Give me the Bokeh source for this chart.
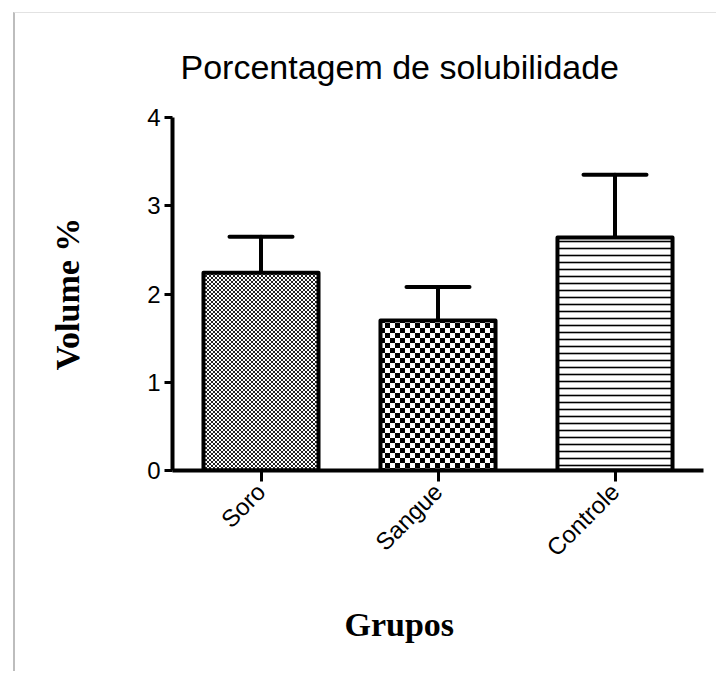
import base64
import math
from bokeh.plotting import figure
from bokeh.models import (ColumnDataSource, Whisker, TeeHead, Title, ImageURLTexture,
                          FactorRange, Range1d, FixedTicker)
from bokeh.core.properties import value
from bokeh.embed import file_html
from bokeh.resources import INLINE

# ---- data ----
groups = ["Soro", "Sangue", "Controle"]
means = [2.24, 1.70, 2.64]
errors = [0.41, 0.38, 0.71]
y_ticks = [0, 1, 2, 3, 4]
title_text = "Porcentagem de solubilidade"
x_label = "Grupos"
y_label = "Volume %"


def svg_texture(svg):
    url = "data:image/svg+xml;base64," + base64.b64encode(svg.encode()).decode()
    return ImageURLTexture(url=url, repetition="repeat")


soro_tex = svg_texture(
    '<svg xmlns="http://www.w3.org/2000/svg" width="4" height="4">'
    '<rect width="4" height="4" fill="white"/>'
    '<rect width="2" height="2" fill="#222"/>'
    '<rect x="2" y="2" width="2" height="2" fill="#222"/></svg>')
sangue_tex = svg_texture(
    '<svg xmlns="http://www.w3.org/2000/svg" width="10" height="10">'
    '<rect width="10" height="10" fill="white"/>'
    '<rect width="5" height="5" fill="black"/>'
    '<rect x="5" y="5" width="5" height="5" fill="black"/></svg>')

p = figure(width=703, height=659, x_range=FactorRange(*groups, range_padding=0),
           y_range=Range1d(0, 4), output_backend="svg", toolbar_location=None,
           min_border_left=157, min_border_right=15, min_border_top=104,
           min_border_bottom=202, title=title_text)
p.styles = {"margin-left": "13px", "margin-top": "12px",
            "border-left": "2px solid #bdbdbd", "border-top": "1px solid #e2e2e2"}

p.title.text_font = "Liberation Sans"
p.title.text_font_style = "normal"
p.title.text_font_size = "34px"
p.title.text_color = "black"
p.title.align = "left"
p.title.offset = 8
p.title.standoff = 63

p.outline_line_color = None
p.xgrid.grid_line_color = None
p.ygrid.grid_line_color = None
p.background_fill_color = "white"
p.border_fill_color = "white"

# error bars (upper only)
err_src = ColumnDataSource(dict(x=groups, top=means,
                                upper=[m + e for m, e in zip(means, errors)]))
wh = Whisker(base="x", lower="top", upper="upper", source=err_src,
             line_width=4, line_color="black", line_cap="round",
             upper_head=TeeHead(size=63, line_width=4, line_color="black", line_cap="round"),
             lower_head=None)
p.add_layout(wh)

styles = [
    dict(hatch_pattern=value("soro"), hatch_extra={"soro": soro_tex}),
    dict(hatch_pattern=value("sangue"), hatch_extra={"sangue": sangue_tex}),
    dict(hatch_pattern="horizontal_line", hatch_scale=7, hatch_weight=1.6, hatch_color="black"),
]
for g, m, st in zip(groups, means, styles):
    src = ColumnDataSource(dict(x=[g], top=[m]))
    p.vbar(x="x", top="top", bottom=0, width=0.65, source=src, fill_color="white",
           line_color="black", line_width=4, line_join="round", **st)

# axes
for ax in (p.xaxis[0], p.yaxis[0]):
    ax.axis_line_width = 4
    ax.axis_line_color = "black"
    ax.major_tick_line_width = 3
    ax.major_tick_line_color = "black"
    ax.major_tick_in = 0
    ax.minor_tick_line_color = None
    ax.major_label_text_font = "Liberation Sans"
    ax.major_label_text_font_size = "24px"
    ax.major_label_text_color = "black"

p.yaxis.ticker = FixedTicker(ticks=y_ticks)
p.yaxis.major_tick_out = 8
p.yaxis.major_label_standoff = 4
p.yaxis.axis_label = y_label
p.yaxis.axis_label_text_font = "Liberation Serif"
p.yaxis.axis_label_text_font_style = "bold"
p.yaxis.axis_label_text_font_size = "34px"
p.yaxis.axis_label_text_color = "black"
p.yaxis.axis_label_standoff = 58

p.xaxis.major_tick_out = 11
p.xaxis.major_label_standoff = 6
p.xaxis.major_label_orientation = math.pi / 4

p.add_layout(Title(text=x_label, align="left", offset=172, standoff=60,
                   text_font="Liberation Serif", text_font_style="bold",
                   text_font_size="34px", text_color="black"), "below")

open("out.html", "w").write(file_html(p, INLINE))
